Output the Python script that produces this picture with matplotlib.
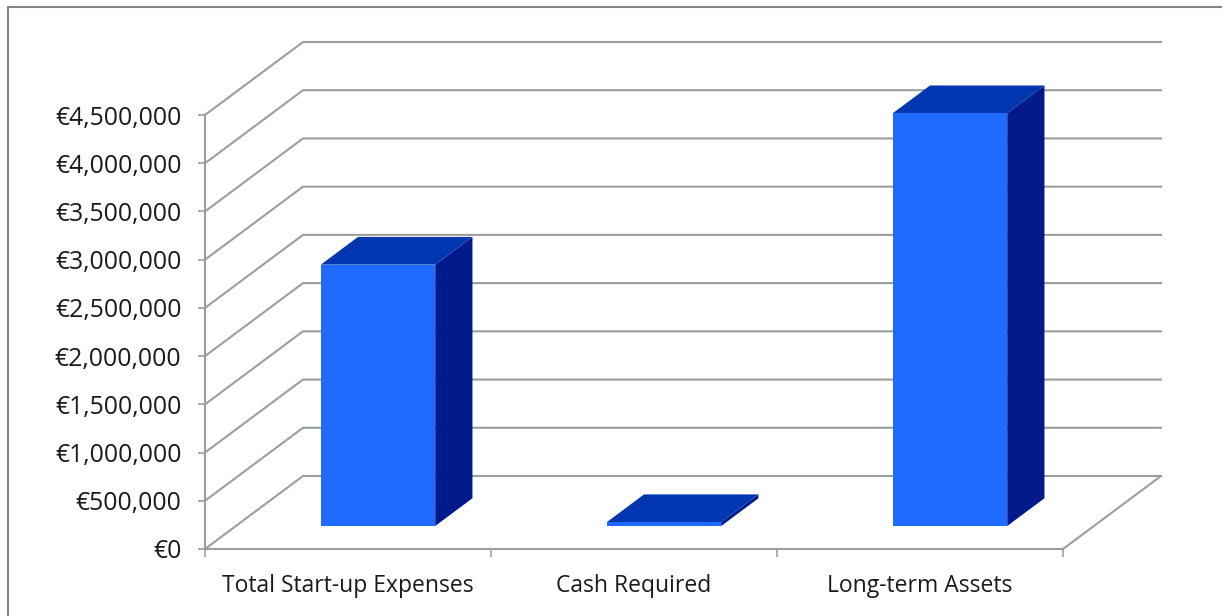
import matplotlib
matplotlib.use('Agg')
import matplotlib.pyplot as plt
from matplotlib.patches import Polygon
from matplotlib.ticker import FuncFormatter

categories = ['Total Start-up Expenses', 'Cash Required', 'Long-term Assets']
values = [2710000, 40000, 4280000]
y_ticks = [0, 500000, 1000000, 1500000, 2000000, 2500000, 3000000, 3500000, 4000000, 4500000]

plt.rcParams['font.family'] = ['Open Sans', 'DejaVu Sans']

W, H = 1222, 616
fig = plt.figure(figsize=(W / 100, H / 100), dpi=100)
# the axes is the front plane of the 3d box
ax = fig.add_axes([205 / W, 1 - 549 / H, 858 / W, 434 / H])
ax.set_xlim(0, 3)
ax.set_ylim(0, 4500000)

# how far one unit of depth moves a point, in data units
depth_x = 98 / 286
depth_y = 73 / (434 / 4500000)


def proj(x, v, d):
    return (x + d * depth_x, v + d * depth_y)


grid_col = '#9a9f9e'
for v in y_ticks:
    xs, ys = zip(proj(0, v, 0), proj(0, v, 1), proj(3, v, 1))
    ax.plot(xs, ys, color=grid_col, lw=1.5, clip_on=False, zorder=1)
xs, ys = zip(proj(3, 0, 1), proj(3, 0, 0))
ax.plot(xs, ys, color=grid_col, lw=1.5, clip_on=False, zorder=1)

bar_w = 0.40
d0, d1 = 0.315, 0.695
for i, v in enumerate(values):
    l = i + 0.497 - bar_w / 2
    r = i + 0.497 + bar_w / 2
    side = [proj(r, 0, d0), proj(r, 0, d1), proj(r, v, d1), proj(r, v, d0)]
    top = [proj(l, v, d0), proj(r, v, d0), proj(r, v, d1), proj(l, v, d1)]
    front = [proj(l, 0, d0), proj(r, 0, d0), proj(r, v, d0), proj(l, v, d0)]
    ax.add_patch(Polygon(side, fc='#001A8C', ec='none', clip_on=False, zorder=3))
    ax.add_patch(Polygon(top, fc='#0037B0', ec='none', clip_on=False, zorder=3))
    ax.add_patch(Polygon(front, fc='#1F6BFF', ec='none', clip_on=False, zorder=4))

for s in ['top', 'right']:
    ax.spines[s].set_visible(False)
for s in ['left', 'bottom']:
    ax.spines[s].set_color(grid_col)
    ax.spines[s].set_linewidth(1.5)
    ax.spines[s].set_zorder(2)

ax.set_yticks(y_ticks)
ax.yaxis.set_major_formatter(FuncFormatter(lambda v, p: '€{:,.0f}'.format(v)))
ax.set_xticks([0, 1, 2, 3])
ax.set_xticklabels([])
ax.set_xticks([0.5, 1.5, 2.5], minor=True)
ax.set_xticklabels(categories, minor=True)
ax.tick_params(axis='x', which='major', length=6, width=1.2, color=grid_col)
ax.tick_params(axis='x', which='minor', length=0, pad=18, labelsize=16.5, labelcolor='#1a1a1a')
ax.tick_params(axis='y', length=5, width=1.2, color=grid_col, pad=12, labelsize=17.8, labelcolor='#1a1a1a')

# chart frame, cut off by the screenshot on the right and at the bottom
fig.add_artist(plt.Line2D([8 / W, 8 / W, 1], [0, 1 - 7 / H, 1 - 7 / H],
                          color='#808585', lw=1.5, transform=fig.transFigure))

fig.savefig('out.png', dpi=100)
